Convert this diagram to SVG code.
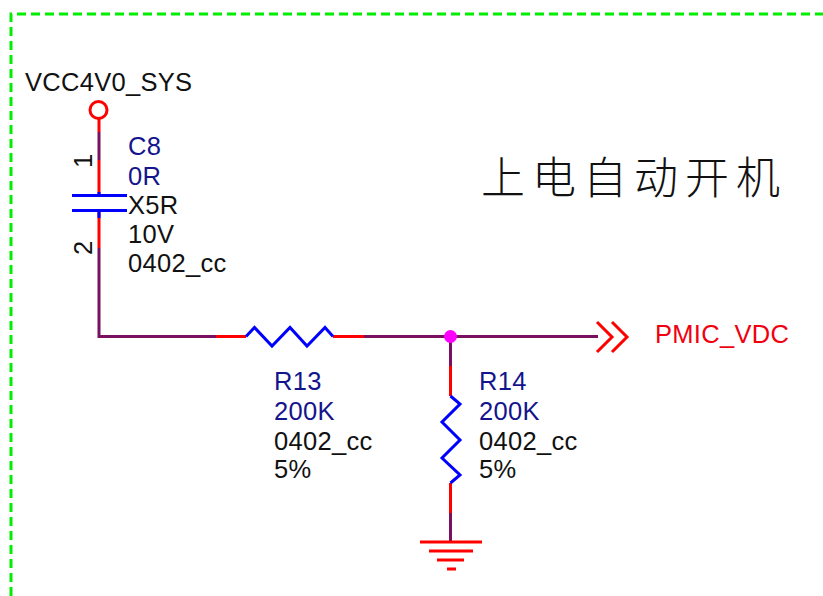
<svg xmlns="http://www.w3.org/2000/svg" width="823" height="596" viewBox="0 0 823 596">
<style>
text{font-family:"Liberation Sans",Arial,sans-serif;font-size:25.500px;letter-spacing:.3px;fill:#111}
.d{fill:#14148c}
.r{fill:#f00011}
.wire{fill:none;stroke:#7a1060;stroke-width:3}
.pin{fill:none;stroke:#ff0000;stroke-width:3}
.body{fill:none;stroke:#0000ff;stroke-width:3;stroke-linejoin:miter}
.frame{fill:none;stroke:#00ee00;stroke-width:3;stroke-dasharray:9 5}
</style>
<rect width="823" height="596" fill="#fff"/>
<path class="frame" d="M11 596V14H823"/>
<g id="connectors">
<path class="wire" d="M99 132V160M99 248V336.500H216M364 336.500H598M450.500 336.500V366M450.500 513V541"/>
</g>
<g id="VCC4V0_SYS">
<circle cx="98.500" cy="110" r="8.500" fill="none" stroke="#ff0000" stroke-width="3"/>
<path class="pin" d="M99 119V132"/>
<text x="25" y="91">VCC4V0_SYS</text>
</g>
<g id="C8">
<path class="pin" d="M99 160V195M99 211V248"/>
<path class="body" d="M72 195.500H127M72 210.500H127M99 192V196M99 211V218"/>
<text transform="translate(92 168) rotate(-90)">1</text>
<text transform="translate(92 255) rotate(-90)">2</text>
<text class="d" x="128" y="155">C8</text>
<text class="d" x="128" y="185">0R</text>
<text x="128" y="214">X5R</text>
<text x="128" y="243">10V</text>
<text x="128" y="272">0402_cc</text>
</g>
<g id="R13">
<path class="pin" d="M216 336.500H246M333 336.500H364"/>
<path class="body" d="M246 336.500L254.500 327.500L272 346L290 327.500L307 346L325 327.500L333 336.500"/>
<text class="d" x="274" y="390">R13</text>
<text class="d" x="274" y="420">200K</text>
<text x="274" y="450">0402_cc</text>
<text x="274" y="478">5%</text>
</g>
<g id="R14">
<path class="pin" d="M450.500 366V396M450.500 483V513"/>
<path class="body" d="M450.500 396L460 404L442 422L460 440L442 458L460 475L450.500 483"/>
<text class="d" x="479" y="390">R14</text>
<text class="d" x="479" y="420">200K</text>
<text x="479" y="450">0402_cc</text>
<text x="479" y="478">5%</text>
</g>
<g id="junction">
<circle cx="450.500" cy="336.500" r="6.500" fill="#ff00ff"/>
</g>
<g id="PMIC_VDC">
<path class="pin" d="M597 322L612 337L597 352M612 322L627 337L612 352"/>
<text class="r" x="655" y="343">PMIC_VDC</text>
</g>
<g id="GND">
<path class="pin" d="M420 542H482M429 551H473M437 560H464M447 569H456"/>
</g>
<g id="title">
<text x="481" y="194" style="font-family:'Noto Sans CJK SC','Noto Sans CJK TC',sans-serif;font-size:44px;font-weight:300;letter-spacing:7px">上电自动开机</text>
</g>
</svg>
